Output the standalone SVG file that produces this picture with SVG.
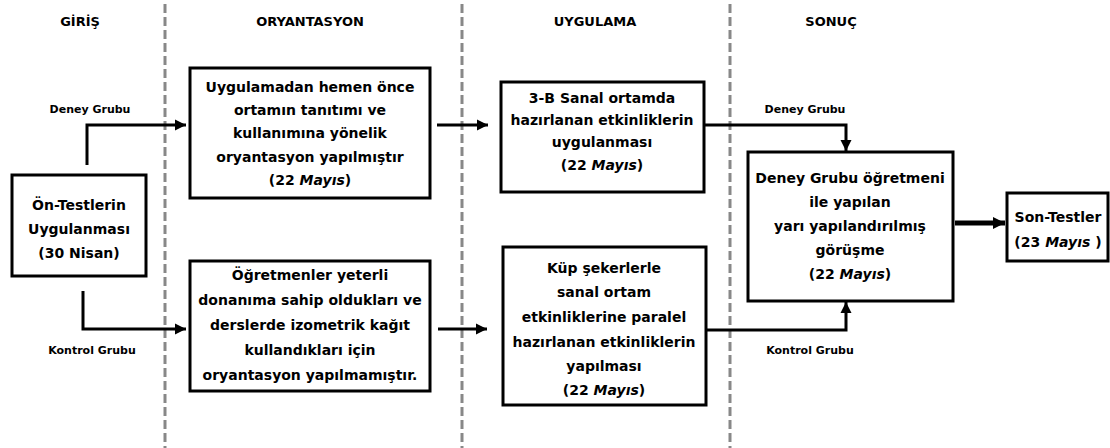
<svg xmlns="http://www.w3.org/2000/svg" width="1110" height="448" viewBox="0 0 1110 448">
<defs>
<marker id="ah" viewBox="0 0 10 10" refX="10" refY="5" markerWidth="11" markerHeight="12" markerUnits="userSpaceOnUse" orient="auto">
<path d="M0,0 L10,5 L0,10 z" fill="#000"/>
</marker>
<marker id="ahb" viewBox="0 0 10 10" refX="10" refY="5" markerWidth="12" markerHeight="15" markerUnits="userSpaceOnUse" orient="auto">
<path d="M0,0 L10,5 L0,10 z" fill="#000"/>
</marker>
</defs>
<style>
.bx{fill:#fff;stroke:#000;stroke-width:3}
.t{font-family:"DejaVu Sans",Verdana,sans-serif;font-size:14px;font-weight:bold;fill:#000;text-anchor:middle}
.h{font-family:"DejaVu Sans",Verdana,sans-serif;font-size:13px;font-weight:bold;fill:#000;text-anchor:middle}
.l{font-family:"DejaVu Sans",Verdana,sans-serif;font-size:11px;font-weight:bold;fill:#000;text-anchor:middle}
.i{font-style:italic}
.c{fill:none;stroke:#000;stroke-width:3;marker-end:url(#ah)}
.d{stroke:#888;stroke-width:3;stroke-dasharray:9 4}
</style>
<rect width="1110" height="448" fill="#fff"/>
<g id="dividers">
<line class="d" x1="165" y1="4" x2="165" y2="448"/>
<line class="d" x1="462" y1="4" x2="462" y2="448"/>
<line class="d" x1="730" y1="4" x2="730" y2="448"/>
</g>
<g id="headers">
<text class="h" x="80" y="26">GİRİŞ</text>
<text class="h" x="310" y="26">ORYANTASYON</text>
<text class="h" x="595" y="26">UYGULAMA</text>
<text class="h" x="831" y="26">SONUÇ</text>
</g>
<g id="connectors">
<path class="c" d="M87,165 V125 H186"/>
<path class="c" d="M83,291 V329 H186"/>
<path class="c" d="M437,125 H488"/>
<path class="c" d="M438,329 H487"/>
<path class="c" d="M705,125 H846 V151"/>
<path class="c" d="M706,330 H846 V302"/>
<path fill="none" stroke="#000" stroke-width="5" marker-end="url(#ahb)" d="M955,223 H1005"/>
<text class="l" x="90" y="113">Deney Grubu</text>
<text class="l" x="92" y="354">Kontrol Grubu</text>
<text class="l" x="805" y="113">Deney Grubu</text>
<text class="l" x="810" y="354">Kontrol Grubu</text>
</g>
<g id="n1">
<rect class="bx" x="12" y="175" width="134" height="101"/>
<text class="t" x="79" y="210">Ön-Testlerin</text>
<text class="t" x="79" y="234">Uygulanması</text>
<text class="t" x="79" y="258">(30 Nisan)</text>
</g>
<g id="n2">
<rect class="bx" x="190" y="68" width="240" height="130"/>
<text class="t" x="310" y="92">Uygulamadan hemen önce</text>
<text class="t" x="310" y="115">ortamın tanıtımı ve</text>
<text class="t" x="310" y="138">kullanımına yönelik</text>
<text class="t" x="310" y="162">oryantasyon yapılmıştır</text>
<text class="t" x="310" y="185">(22 <tspan class="i">Mayıs</tspan>)</text>
</g>
<g id="n3">
<rect class="bx" x="501" y="82" width="203" height="110"/>
<text class="t" x="602" y="103">3-B Sanal ortamda</text>
<text class="t" x="602" y="125">hazırlanan etkinliklerin</text>
<text class="t" x="602" y="147">uygulanması</text>
<text class="t" x="602" y="170">(22 <tspan class="i">Mayıs</tspan>)</text>
</g>
<g id="n4">
<rect class="bx" x="748" y="152" width="205" height="149"/>
<text class="t" x="850" y="183">Deney Grubu öğretmeni</text>
<text class="t" x="850" y="207">ile yapılan</text>
<text class="t" x="850" y="231">yarı yapılandırılmış</text>
<text class="t" x="850" y="255">görüşme</text>
<text class="t" x="850" y="279">(22 <tspan class="i">Mayıs</tspan>)</text>
</g>
<g id="n5">
<rect class="bx" x="190" y="261" width="240" height="130"/>
<text class="t" x="310" y="280">Öğretmenler yeterli</text>
<text class="t" x="310" y="305">donanıma sahip oldukları ve</text>
<text class="t" x="310" y="330">derslerde izometrik kağıt</text>
<text class="t" x="310" y="355">kullandıkları için</text>
<text class="t" x="310" y="380">oryantasyon yapılmamıştır.</text>
</g>
<g id="n6">
<rect class="bx" x="503" y="247" width="203" height="158"/>
<text class="t" x="604" y="273">Küp şekerlerle</text>
<text class="t" x="604" y="297">sanal ortam</text>
<text class="t" x="604" y="322">etkinliklerine paralel</text>
<text class="t" x="604" y="347">hazırlanan etkinliklerin</text>
<text class="t" x="604" y="371">yapılması</text>
<text class="t" x="604" y="395">(22 <tspan class="i">Mayıs</tspan>)</text>
</g>
<g id="n7">
<rect class="bx" x="1007" y="193" width="101" height="68"/>
<text class="t" x="1058" y="222">Son-Testler</text>
<text class="t" x="1058" y="247">(23 <tspan class="i">Mayıs</tspan> )</text>
</g>
</svg>
